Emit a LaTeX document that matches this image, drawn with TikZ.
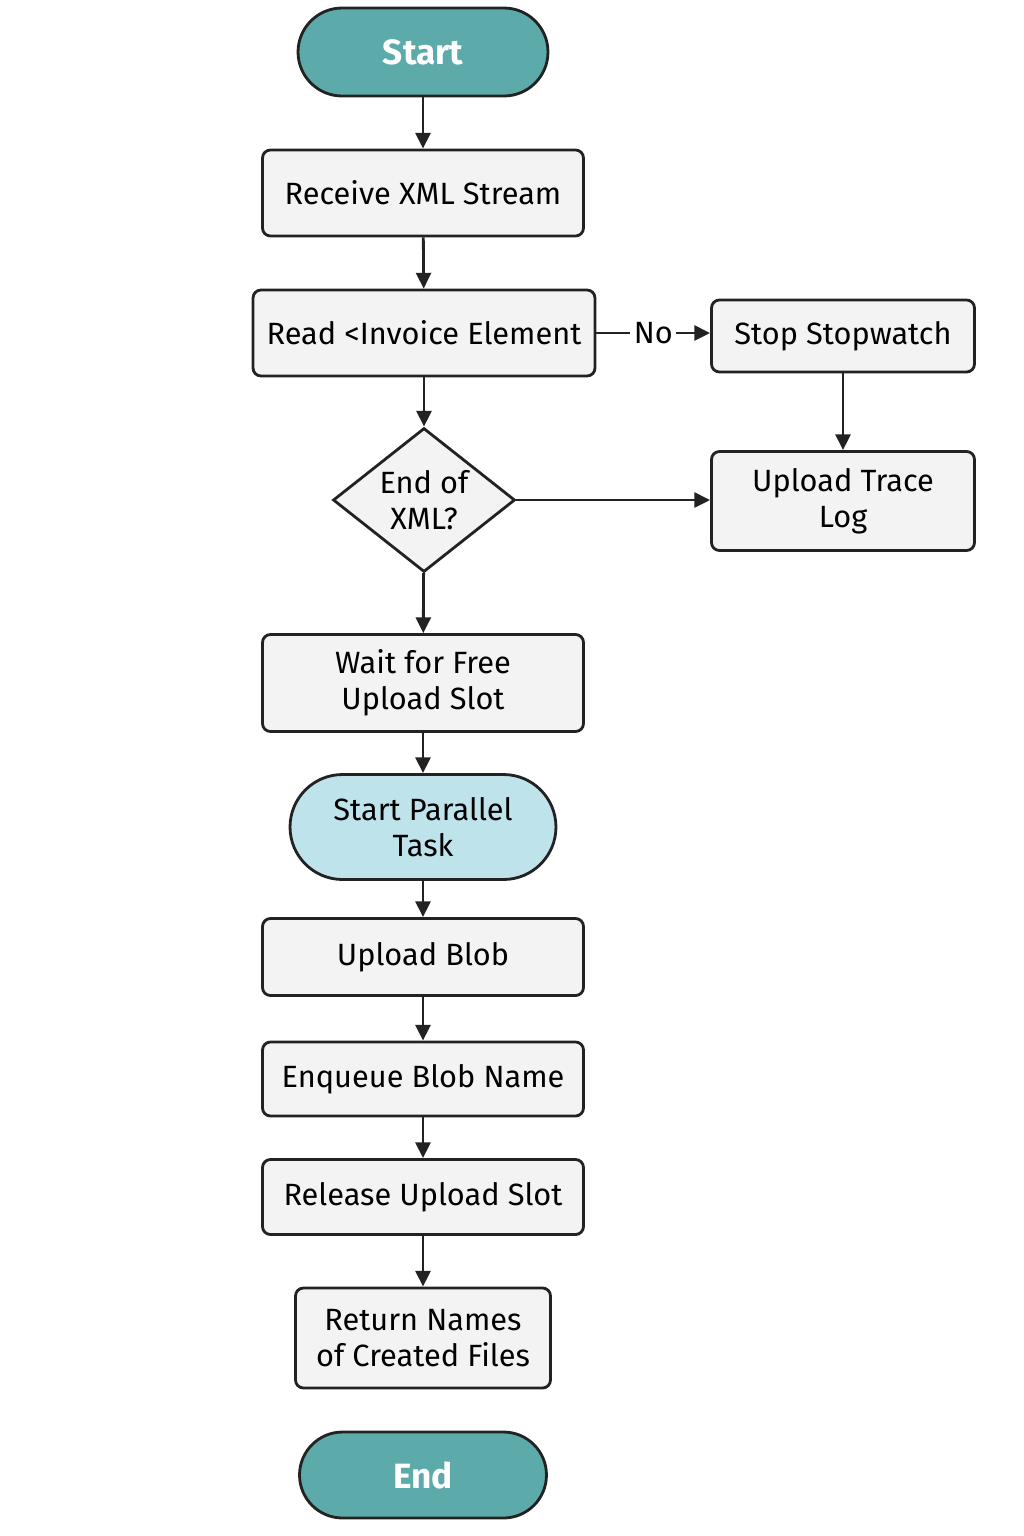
\documentclass[tikz,border=0pt]{standalone}
\usepackage{fontspec}
\setmainfont{Fira Sans}
\usepackage{tikz}
\usetikzlibrary{arrows.meta, shapes.geometric}
\definecolor{teal}{HTML}{5CAAA9}
\definecolor{paleblue}{HTML}{BEE3EA}
\definecolor{boxgray}{HTML}{F3F3F3}
\definecolor{ink}{HTML}{222222}
\tikzset{
	tri/.tip={Triangle[length=9pt, width=8.5pt]},
	flow/.style={draw=ink, line width=1.6pt, -tri},
	proc/.style={draw=ink, line width=1.6pt, fill=boxgray, rounded corners=4.5pt,
		align=center, inner sep=0pt, text=black, font=\fontsize{17.5}{20.5}\selectfont},
	term/.style={draw=ink, line width=1.6pt, fill=teal, align=center, inner sep=0pt,
		text=white, font=\fontsize{20}{24}\selectfont\bfseries},
	decide/.style={draw=ink, line width=1.6pt, fill=boxgray, diamond, aspect=1.26,
		align=center, inner sep=0pt, font=\fontsize{17.5}{20.5}\selectfont},
}

\begin{document}
\begin{tikzpicture}[x=0.02cm, y=-0.02cm]
	\useasboundingbox (0,0) rectangle (1024,1536);
	
	% Main column
	\node[term, minimum width=5cm, minimum height=1.76cm, rounded corners=0.88cm] (start) at (423,52) {Start};
	\node[proc, minimum width=6.42cm, minimum height=1.72cm] (receive) at (423,193) {Receive XML Stream};
	\node[proc, minimum width=6.84cm, minimum height=1.72cm] (read) at (424,333) {Read <Invoice Element};
	\node[decide, minimum width=3.64cm, minimum height=2.88cm] (endxml) at (424,500) {End of\\XML?};
	\node[proc, minimum width=6.42cm, minimum height=1.94cm] (wait) at (423,683) {Wait for Free\\Upload Slot};
	\node[term, fill=paleblue, text=black, font=\fontsize{17.5}{20.5}\selectfont,
		minimum width=5.32cm, minimum height=2.1cm, rounded corners=1.05cm] (parallel) at (423,827) {Start Parallel\\Task};
	\node[proc, minimum width=6.42cm, minimum height=1.54cm] (blob) at (423,957) {Upload Blob};
	\node[proc, minimum width=6.42cm, minimum height=1.48cm] (enqueue) at (423,1079) {Enqueue Blob Name};
	\node[proc, minimum width=6.42cm, minimum height=1.5cm] (release) at (423,1197) {Release Upload Slot};
	\node[proc, minimum width=5.1cm, minimum height=2cm] (names) at (423,1338) {Return Names\\of Created Files};
	\node[term, minimum width=4.94cm, minimum height=1.72cm, rounded corners=0.86cm] (end) at (423,1475) {End};
	
	% Side branch
	\node[proc, minimum width=5.26cm, minimum height=1.44cm] (stop) at (843,336) {Stop Stopwatch};
	\node[proc, minimum width=5.26cm, minimum height=1.98cm] (trace) at (843,501) {Upload Trace\\Log};
	
	% Connectors
	\draw[flow] (start) -- (receive);
	\draw[flow] (receive) -- (read);
	\draw[flow] (read) -- (endxml);
	\draw[flow] (endxml) -- (wait);
	\draw[flow] (wait) -- (parallel);
	\draw[flow] (parallel) -- (blob);
	\draw[flow] (blob) -- (enqueue);
	\draw[flow] (enqueue) -- (release);
	\draw[flow] (release) -- (names);
	\draw[flow] (read.east) -- node[fill=white, inner sep=2pt, font=\fontsize{17.5}{20.5}\selectfont] (no) {No} (read.east -| stop.west);
	\draw[flow] (stop) -- (trace);
	\draw[flow] (endxml.east) -- (endxml.east -| trace.west);
\end{tikzpicture}
\end{document}
